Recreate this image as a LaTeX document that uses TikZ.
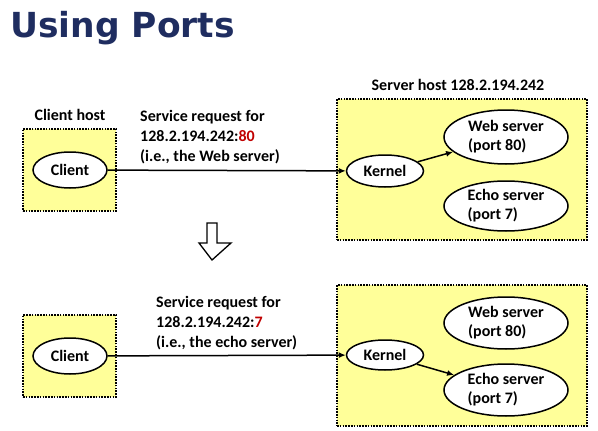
\documentclass[tikz,border=0pt]{standalone}
\usepackage{fontspec}
\setmainfont{Carlito}[BoldFont={Carlito Bold}]
\newfontfamily\titlefont{DejaVu Sans}[BoldFont={DejaVu Sans Bold}]
\usetikzlibrary{shapes.geometric,arrows.meta}
\definecolor{navy}{RGB}{31,45,96}
\definecolor{hostyellow}{RGB}{255,255,153}
\definecolor{portred}{RGB}{192,0,0}
\tikzset{
  host/.style={draw=black, fill=hostyellow, line width=1.6pt, dash pattern=on 1.6pt off 1.2pt},
  proc/.style={draw=black, fill=white, ellipse, line width=1.5pt, inner sep=0pt, font=\bfseries\fontsize{16}{19}\selectfont},
  lbl/.style={font=\bfseries\fontsize{16}{20}\selectfont, inner sep=0pt, align=left},
  conn/.style={line width=1.5pt, -{Latex[length=7pt,width=6pt]}},
}
\begin{document}
\begin{tikzpicture}[x=1pt,y=-1pt]
\useasboundingbox (0,0) rectangle (598,431);
\node[anchor=west, inner sep=0pt, text=navy, font=\titlefont\bfseries\fontsize{34.5}{36}\selectfont] (title) at (10,28) {Using Ports};

% ---- top scenario ----
\node[lbl] (clienthostlbl) at (70,115) {Client host};
\node[host, minimum width=93, minimum height=82] (chost1) at (69.5,170) {};
\node[proc, minimum width=74, minimum height=36] (client1) at (70,170) {Client};
\node[lbl, anchor=west] (req1) at (140,137) {Service request for\\128.2.194.242:\textcolor{portred}{80}\\(i.e., the Web server)};

\node[lbl] (serverhostlbl) at (458,85) {Server host 128.2.194.242};
\node[host, minimum width=250, minimum height=141] (shost1) at (462,169.5) {};
\node[proc, minimum width=77, minimum height=32] (kernel1) at (385,171) {Kernel};
\node[proc, minimum width=124, minimum height=54, align=left] (web1) at (506,137) {Web server\\(port 80)};
\node[proc, minimum width=124, minimum height=50, align=left] (echo1) at (506,206) {Echo server\\(port 7)};

\draw[conn] (client1) -- (kernel1);
\draw[conn] (kernel1) -- (web1);

% ---- down arrow ----
\draw[line width=1.3pt, fill=white] (207,223) -- (217,223) -- (217,243) -- (231,243) -- (212,260) -- (199,243) -- (207,243) -- cycle;

% ---- bottom scenario ----
\node[host, minimum width=93, minimum height=82] (chost2) at (69.5,356) {};
\node[proc, minimum width=74, minimum height=36] (client2) at (70,356) {Client};
\node[lbl, anchor=west] (req2) at (156,323) {Service request for\\128.2.194.242:\textcolor{portred}{7}\\(i.e., the echo server)};

\node[host, minimum width=250, minimum height=141] (shost2) at (462,355.5) {};
\node[proc, minimum width=77, minimum height=30] (kernel2) at (385,355) {Kernel};
\node[proc, minimum width=124, minimum height=52, align=left] (web2) at (506,323) {Web server\\(port 80)};
\node[proc, minimum width=124, minimum height=52, align=left] (echo2) at (506,390) {Echo server\\(port 7)};

\draw[conn] (client2) -- (kernel2);
\draw[conn] (kernel2) -- (echo2);
\end{tikzpicture}
\end{document}
